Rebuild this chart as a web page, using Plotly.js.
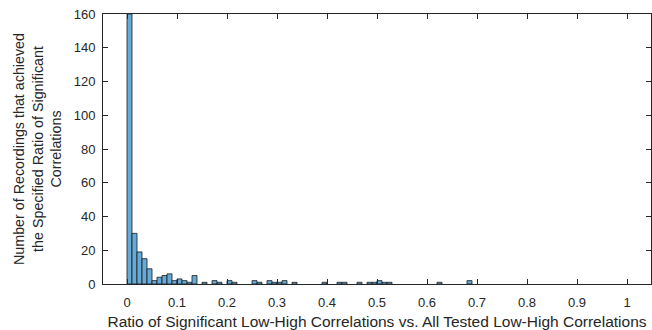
<!DOCTYPE html>
<html>
<head>
<meta charset="utf-8">
<script src="https://cdn.plot.ly/plotly-3.0.1.min.js"></script>
<style>
  html, body { margin: 0; padding: 0; background: #ffffff; }
  #chart { width: 652px; height: 330px; }
</style>
</head>
<body>
<div id="chart"></div>
<script>
// Histogram bins (left edge of each non-empty bin, bin width 0.01) and counts
const binLeft = [0.00, 0.01, 0.02, 0.03, 0.04, 0.05, 0.06, 0.07, 0.08, 0.09,
                 0.10, 0.11, 0.12, 0.13, 0.15, 0.17, 0.18, 0.20, 0.21, 0.25,
                 0.26, 0.28, 0.29, 0.30, 0.31, 0.33, 0.39, 0.42, 0.43, 0.46,
                 0.48, 0.49, 0.50, 0.51, 0.52, 0.62, 0.68];
const counts  = [160, 30, 19, 15, 9, 2, 4, 5, 6, 2,
                 3, 2, 1, 5, 1, 2, 1, 2, 1, 2,
                 1, 2, 1, 1, 2, 1, 1, 1, 1, 1,
                 1, 1, 2, 1, 1, 1, 2];
const binWidth = 0.01;
const xTickVals = [0, 0.1, 0.2, 0.3, 0.4, 0.5, 0.6, 0.7, 0.8, 0.9, 1];
const xTickText = ["0", "0.1", "0.2", "0.3", "0.4", "0.5", "0.6", "0.7", "0.8", "0.9", "1"];
const yTickVals = [0, 20, 40, 60, 80, 100, 120, 140, 160];
const xTitle = "Ratio of Significant Low-High Correlations vs. All Tested Low-High Correlations";
const yTitle = "Number of Recordings that achieved<br>the Specified Ratio of Significant<br>Correlations";

const centers = binLeft.map(v => v + binWidth / 2);

const axisColor = "#262626";
const fontFam = "Arial, 'Liberation Sans', Helvetica, sans-serif";

const trace = {
  type: "bar",
  x: centers,
  y: counts,
  width: binWidth,
  marker: { color: "rgb(102,170,215)", line: { color: "#1a1a1a", width: 0.8 } },
  hoverinfo: "x+y"
};

const layout = {
  width: 652, height: 330,
  margin: { l: 103, r: 1, t: 14, b: 46 },
  paper_bgcolor: "#ffffff",
  plot_bgcolor: "#ffffff",
  showlegend: false,
  font: { family: fontFam, color: axisColor, size: 13 },
  xaxis: {
    range: [-0.048, 1.048],
    tickvals: xTickVals, ticktext: xTickText,
    ticks: "inside", ticklen: 5, tickwidth: 1, tickcolor: axisColor,
    showline: true, linecolor: axisColor, linewidth: 1, mirror: "ticks",
    showgrid: false, zeroline: false,
    tickfont: { size: 13, color: axisColor },
    ticklabelstandoff: 6,
    title: { text: xTitle, font: { size: 15.5, color: axisColor }, standoff: 7 }
  },
  yaxis: {
    range: [0, 160],
    tickvals: yTickVals,
    ticks: "inside", ticklen: 5, tickwidth: 1, tickcolor: axisColor,
    showline: true, linecolor: axisColor, linewidth: 1, mirror: "ticks",
    showgrid: false, zeroline: false,
    tickfont: { size: 13, color: axisColor },
    ticklabelstandoff: 4,
    title: { text: yTitle, font: { size: 14.3, color: axisColor }, standoff: 8 }
  },
  bargap: 0
};

Plotly.newPlot("chart", [trace], layout, { displayModeBar: false, staticPlot: true });
</script>
</body>
</html>
